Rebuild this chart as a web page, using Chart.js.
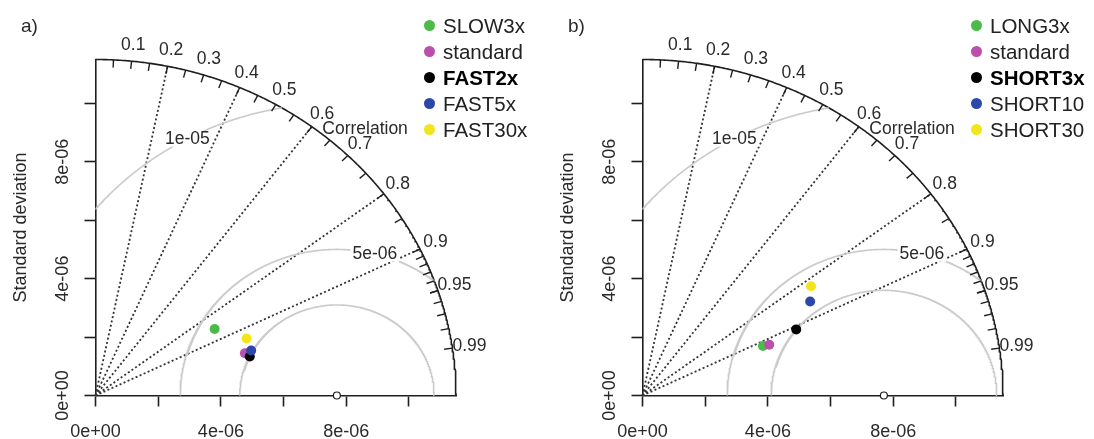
<!DOCTYPE html>
<html>
<head>
<meta charset="utf-8">
<title>Taylor diagrams</title>
<script src="https://cdn.jsdelivr.net/npm/chart.js@4.4.1/dist/chart.umd.min.js"></script>
<style>
  html, body { margin: 0; padding: 0; background: #fff; overflow: hidden; }
  .panel { position: absolute; top: 0; width: 547px; height: 439px; }
  #panelA { left: 0; }
  #panelB { left: 547px; }
  .legend {
    position: absolute; left: 424px; top: 13px;
    list-style: none; margin: 0; padding: 0;
    font: 20.5px "Liberation Sans", Arial, sans-serif; color: #222;
    white-space: nowrap;
  }
  .legend li { display: flex; align-items: center; height: 25.9px; }
  .legend .dot { width: 11px; height: 11px; border-radius: 50%; margin-right: 8px; flex: none; }
</style>
</head>
<body>
<div class="panel" id="panelA"><canvas id="chartA"></canvas><ul class="legend" id="legendA"></ul></div>
<div class="panel" id="panelB"><canvas id="chartB"></canvas><ul class="legend" id="legendB"></ul></div>

<script>
// ── Data ────────────────────────────────────────────────────────────────────
const MAX_SD = 11.5e-6;          // outer radius of the diagram
const REF_SD = 7.7e-6;           // observed (reference) standard deviation

const sdTickValues = [0, 4e-6, 8e-6];
const sdTickLabels = ['0e+00', '4e-06', '8e-06'];

const corrLabelValues = [0.1, 0.2, 0.3, 0.4, 0.5, 0.6, 0.7, 0.8, 0.9, 0.95, 0.99];
const corrRays = [0.2, 0.4, 0.6, 0.8, 0.9];

const rmsLevelsA = [3.1e-6, 5e-6, 1e-5];
const rmsLevelsB = [3.6e-6, 5e-6, 1e-5];
const rmsLabelValues = [5e-6, 1e-5];
const rmsLabelTexts = ['5e-06', '1e-05'];

const namesA = ['SLOW3x', 'standard', 'FAST2x', 'FAST5x', 'FAST30x'];
const sdA    = [4.43e-6, 4.98e-6, 5.10e-6, 5.20e-6, 5.20e-6];
const corA   = [0.858, 0.957, 0.965, 0.955, 0.927];

const namesB = ['LONG3x', 'standard', 'SHORT3x', 'SHORT10', 'SHORT30'];
const sdB    = [4.20e-6, 4.40e-6, 5.40e-6, 6.24e-6, 6.55e-6];
const corB   = [0.915, 0.919, 0.908, 0.857, 0.821];

const modelColors = ['#4cbb47', '#bb4fae', '#000000', '#2c47a8', '#f2e51c'];

// ── Style ───────────────────────────────────────────────────────────────────
const AXIS = '#1e1e1e';
const TEXT = '#2a2a2a';
const FONT = '"Liberation Sans", Arial, sans-serif';

Chart.defaults.font.family = FONT;
Chart.defaults.font.size = 18;
Chart.defaults.color = TEXT;

// ── Geometry helpers ────────────────────────────────────────────────────────
const polar = (sd, c) => ({ x: sd * c, y: sd * Math.sqrt(Math.max(0, 1 - c * c)) });

// centred RMS difference contour around the reference point, kept inside the quadrant
function rmsContour(rms) {
    const pts = [];
    for (let i = 0; i <= 1440; i++) {
        const t = Math.PI * i / 1440;
        const p = { x: REF_SD + rms * Math.cos(t), y: rms * Math.sin(t) };
        if (p.x >= 0 && Math.hypot(p.x, p.y) <= MAX_SD) pts.push(p);
    }
    return pts;
}

const arcPoints = Array.from({ length: 361 }, (_, i) => polar(MAX_SD, Math.cos(i / 360 * Math.PI / 2)));

// tick positions along the correlation arc
const arcTicks = [];
for (let k = 1; k <= 19; k++) arcTicks.push(k * 0.05);
for (let k = 91; k <= 99; k++) arcTicks.push(k / 100);

function sdTickCallback(v) {
    const i = sdTickValues.findIndex(t => Math.abs(t - v) < 1e-12);
    return i >= 0 ? sdTickLabels[i] : '';
}

function buildDatasets(names, sds, cors, rmsLevels) {
    const line = (data, extra) => Object.assign({
        data, showLine: true, pointRadius: 0, fill: false, clip: false,
        order: 100, borderCapStyle: 'butt',
    }, extra);

    const sets = [];
    rmsLevels.forEach(r => sets.push(line(rmsContour(r), { borderColor: '#cbcbcb', borderWidth: 1.6 })));
    corrRays.forEach(c => sets.push(line([{ x: 0, y: 0 }, polar(MAX_SD, c)], {
        borderColor: '#333', borderWidth: 1.8, borderDash: [2, 2.4],
    })));
    sets.push(line(arcPoints, { borderColor: AXIS, borderWidth: 1.6 }));

    // reference point on the x axis
    sets.push({
        data: [{ x: REF_SD, y: 0 }], pointRadius: 3.5, pointBackgroundColor: '#fff',
        pointBorderColor: AXIS, pointBorderWidth: 1.2, clip: false, order: 50,
    });

    names.forEach((name, i) => sets.push({
        label: name, isModel: true,
        data: [polar(sds[i], cors[i])],
        pointRadius: 5, pointHoverRadius: 5,
        pointBackgroundColor: modelColors[i], pointBorderWidth: 0,
        clip: false, order: 10 - i,
    }));
    return sets;
}

// ── Plugin: arc ticks, correlation labels, contour labels, panel letter ─────
const taylorDecor = {
    id: 'taylorDecor',
    afterDatasetsDraw(chart, args, opts) {
        const { ctx, scales: { x, y } } = chart;
        const toPx = p => [x.getPixelForValue(p.x), y.getPixelForValue(p.y)];

        ctx.save();

        ctx.strokeStyle = AXIS;
        ctx.lineWidth = 1.4;
        arcTicks.forEach(c => {
            const [x0, y0] = toPx(polar(MAX_SD, c));
            const [x1, y1] = toPx(polar(MAX_SD * 0.977, c));
            ctx.beginPath();
            ctx.moveTo(x0, y0);
            ctx.lineTo(x1, y1);
            ctx.stroke();
        });

        ctx.fillStyle = TEXT;
        ctx.font = `17.5px ${FONT}`;
        ctx.textAlign = 'center';
        ctx.textBaseline = 'middle';
        corrLabelValues.forEach(c => {
            const [px, py] = toPx(polar(MAX_SD * 1.048, c));
            ctx.fillText(String(c), px, py);
        });
        const [cx, cy] = toPx(polar(MAX_SD * 1.09, 0.686));
        ctx.fillText('Correlation', cx, cy);

        // contour labels sit on a white box that breaks the lines beneath
        rmsLabelValues.forEach((r, i) => {
            const a = opts.labelAngles[i] * Math.PI / 180;
            const [px, py] = toPx({ x: REF_SD + r * Math.cos(a), y: r * Math.sin(a) });
            const w = ctx.measureText(rmsLabelTexts[i]).width;
            ctx.fillStyle = '#fff';
            ctx.fillRect(px - w / 2 - 2, py - 8, w + 4, 16);
            ctx.fillStyle = TEXT;
            ctx.fillText(rmsLabelTexts[i], px, py);
        });

        ctx.font = `19px ${FONT}`;
        ctx.textAlign = 'left';
        ctx.fillText(opts.letter, 21, 27);

        ctx.restore();
    },
};

function makePanel(canvasId, legendId, letter, names, sds, cors, rmsLevels, boldName) {
    const axisCommon = {
        type: 'linear', min: 0, max: MAX_SD,
        border: { display: true, color: AXIS, width: 1.6 },
        grid: { drawOnChartArea: false, drawTicks: true, tickLength: 11, tickColor: AXIS, tickWidth: 1.6 },
    };

    const chart = new Chart(document.getElementById(canvasId), {
        type: 'scatter',
        data: { datasets: buildDatasets(names, sds, cors, rmsLevels) },
        plugins: [taylorDecor],
        options: {
            responsive: true,
            maintainAspectRatio: false,
            animation: false,
            events: [],
            layout: { padding: { top: 59.5, right: 91, bottom: 0, left: 0 } },
            plugins: {
                legend: { display: false },
                tooltip: { enabled: false },
                taylorDecor: { letter, labelAngles: [76, 118.5] },
            },
            scales: {
                x: {
                    ...axisCommon,
                    ticks: {
                        stepSize: 2e-6, includeBounds: false, autoSkip: false,
                        maxRotation: 0, padding: 15, color: TEXT, callback: sdTickCallback,
                    },
                    afterFit: s => { s.height = 43.5; },
                },
                y: {
                    ...axisCommon,
                    ticks: {
                        stepSize: 2e-6, includeBounds: false, autoSkip: false,
                        minRotation: 90, maxRotation: 90, crossAlign: 'center',
                        padding: -4, color: TEXT, callback: sdTickCallback,
                    },
                    title: {
                        display: true, text: 'Standard deviation', color: TEXT,
                        font: { size: 18 }, padding: { top: 10, bottom: 0 },
                    },
                    afterFit: s => { s.width = 95.5; },
                },
            },
        },
    });

    // HTML legend built from the model datasets
    const legend = document.getElementById(legendId);
    chart.data.datasets.filter(d => d.isModel).forEach(d => {
        const li = document.createElement('li');
        const dot = document.createElement('span');
        dot.className = 'dot';
        dot.style.background = d.pointBackgroundColor;
        const txt = document.createElement('span');
        txt.textContent = d.label;
        if (d.label === boldName) { txt.style.fontWeight = 'bold'; txt.style.color = '#000'; }
        li.append(dot, txt);
        legend.append(li);
    });
    return chart;
}

makePanel('chartA', 'legendA', 'a)', namesA, sdA, corA, rmsLevelsA, 'FAST2x');
makePanel('chartB', 'legendB', 'b)', namesB, sdB, corB, rmsLevelsB, 'SHORT3x');
</script>
</body>
</html>
